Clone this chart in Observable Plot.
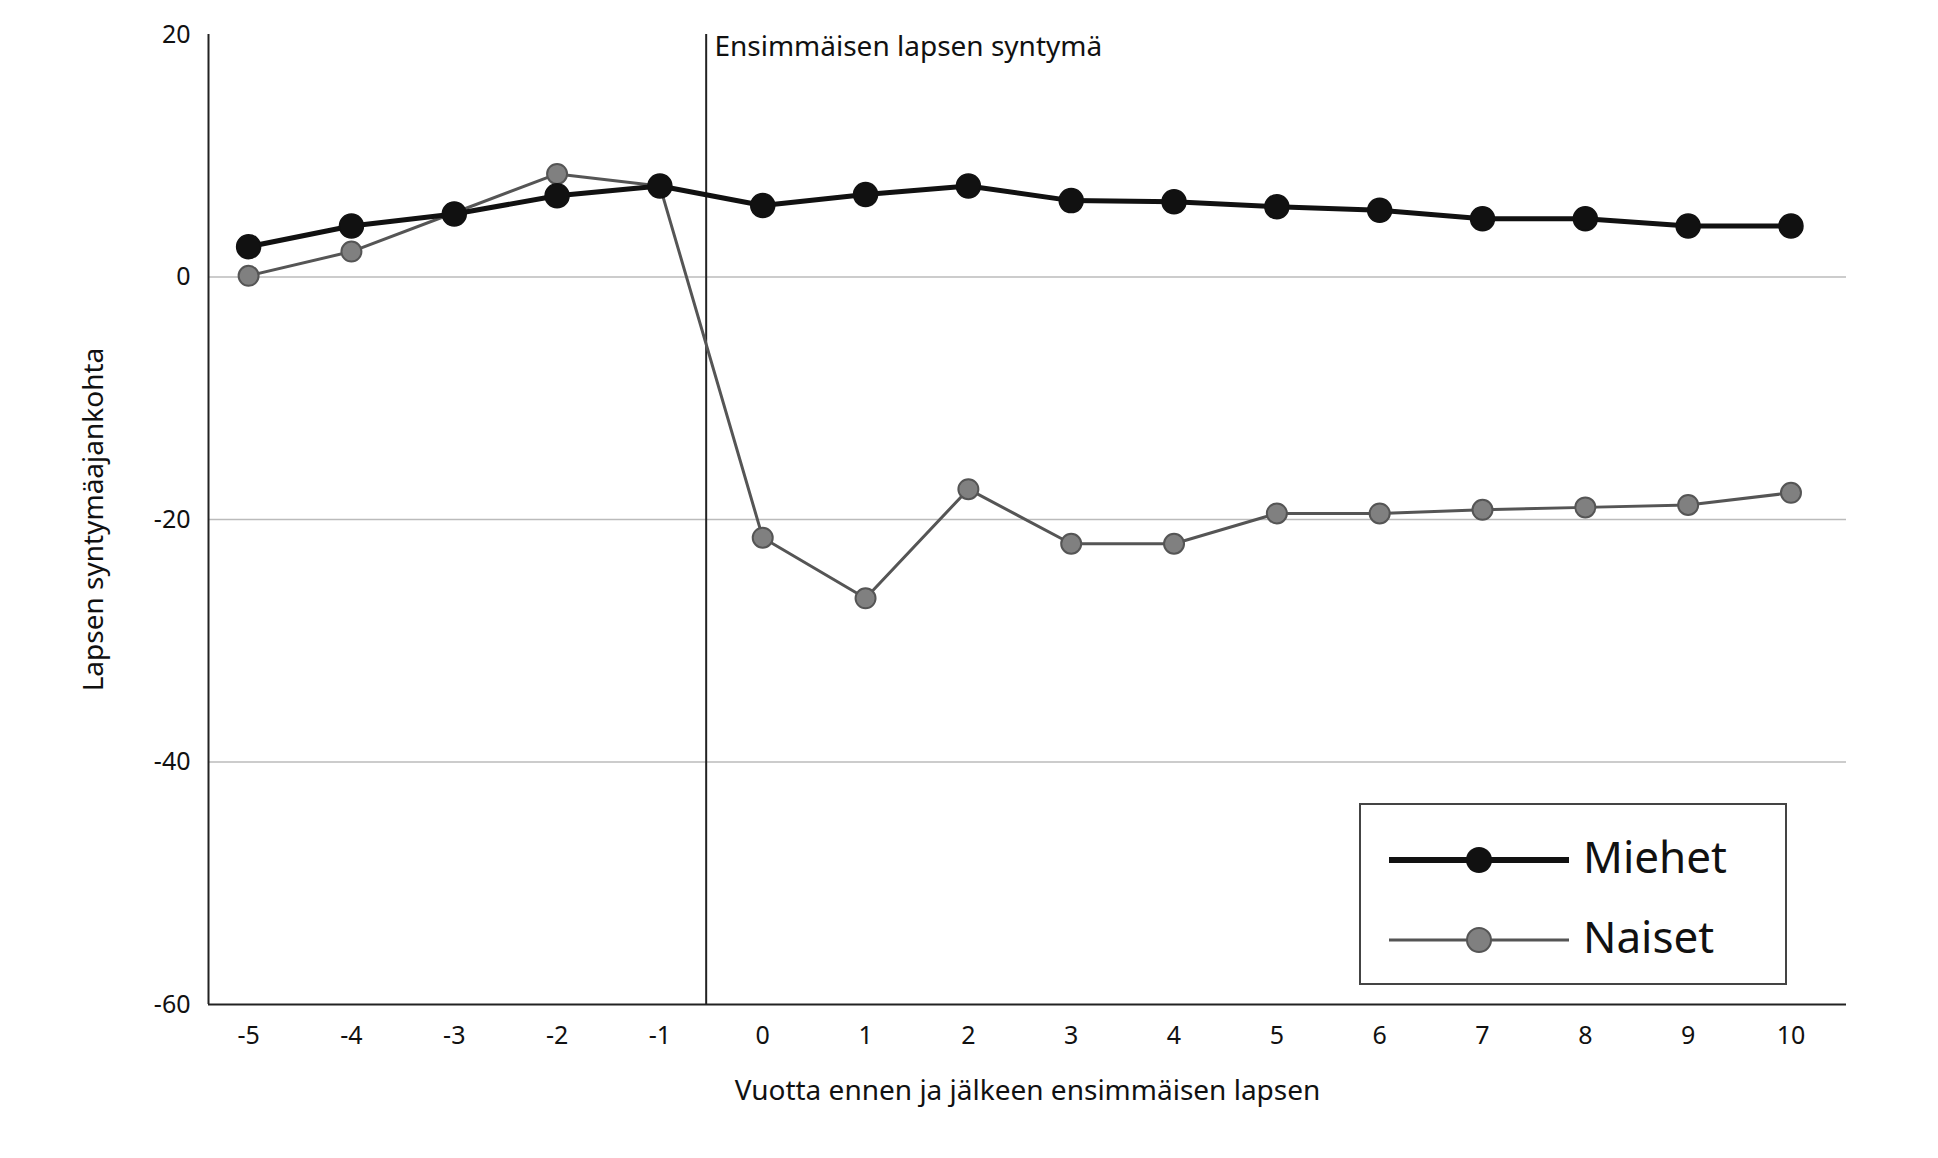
<!DOCTYPE html>
<html><head><meta charset="utf-8">
<script src="https://cdn.jsdelivr.net/npm/d3@7"></script>
<script src="https://cdn.jsdelivr.net/npm/@observablehq/plot@0.6"></script>
<style>body{margin:0;background:#fff;font-family:"Noto Sans",sans-serif}#wrap{position:relative;width:1938px;height:1158px}
#legend{position:absolute;left:1359px;top:803px;width:428px;height:182px;border:2px solid #444;box-sizing:border-box;background:#fff}</style>
</head><body><div id="wrap"></div>
<script>
const years=[-5,-4,-3,-2,-1,0,1,2,3,4,5,6,7,8,9,10];
const miehet=[2.5,4.2,5.2,6.7,7.5,5.9,6.8,7.5,6.3,6.2,5.8,5.5,4.8,4.8,4.2,4.2];
const naiset=[0.1,2.1,5.3,8.5,7.5,-21.5,-26.5,-17.5,-22,-22,-19.5,-19.5,-19.2,-19,-18.8,-17.8];
const yTicks=[20,0,-20,-40,-60];
const gridVals=[0,-20,-40];
const m=years.map((x,i)=>({x,y:miehet[i]}));
const n=years.map((x,i)=>({x,y:naiset[i]}));
const plot=Plot.plot({
  width:1938,height:1158,marginLeft:208,marginRight:92,marginTop:34,marginBottom:154,
  style:{fontFamily:"Noto Sans",fontSize:"25px",color:"#111"},
  x:{domain:[-5.39,10.54],ticks:years,tickFormat:d=>String(d),label:null,tickSize:0,tickPadding:22},
  y:{domain:[-60,20],ticks:yTicks,label:null,tickSize:0,tickPadding:18,tickFormat:d=>String(d)},
  marks:[
    Plot.ruleY(gridVals,{stroke:"#bbb",strokeWidth:1.5}),
    Plot.ruleX([-5.39],{stroke:"#222",strokeWidth:2}),
    Plot.ruleY([-60],{stroke:"#222",strokeWidth:2}),
    Plot.ruleX([-0.55],{stroke:"#222",strokeWidth:2}),
    Plot.text(["Ensimmäisen lapsen syntymä"],{x:-0.47,y:19,textAnchor:"start",fontSize:28,fill:"#111"}),
    Plot.line(n,{x:"x",y:"y",stroke:"#555",strokeWidth:3}),
    Plot.dot(n,{x:"x",y:"y",r:10,fill:"#808080",stroke:"#555",strokeWidth:2}),
    Plot.line(m,{x:"x",y:"y",stroke:"#111",strokeWidth:5}),
    Plot.dot(m,{x:"x",y:"y",r:12,fill:"#111",stroke:"#111"}),
    Plot.text(["Vuotta ennen ja jälkeen ensimmäisen lapsen"],{frameAnchor:"bottom",dy:95,fontSize:28,fill:"#111"}),
    Plot.text(["Lapsen syntymäajankohta"],{frameAnchor:"left",textAnchor:"middle",dx:-114,rotate:-90,fontSize:28,fill:"#111"})
  ]
});
document.getElementById("wrap").appendChild(plot);
const lg=document.createElement("div");lg.id="legend";
lg.innerHTML=`<svg width="424" height="178" font-family="Noto Sans">
<line x1="28" y1="55" x2="208" y2="55" stroke="#111" stroke-width="6"/><circle cx="118" cy="55" r="13" fill="#111"/>
<text x="222" y="68" font-size="44" fill="#111">Miehet</text>
<line x1="28" y1="135" x2="208" y2="135" stroke="#555" stroke-width="3"/><circle cx="118" cy="135" r="12" fill="#808080" stroke="#555" stroke-width="2"/>
<text x="222" y="148" font-size="44" fill="#111">Naiset</text></svg>`;
document.getElementById("wrap").appendChild(lg);
</script></body></html>
